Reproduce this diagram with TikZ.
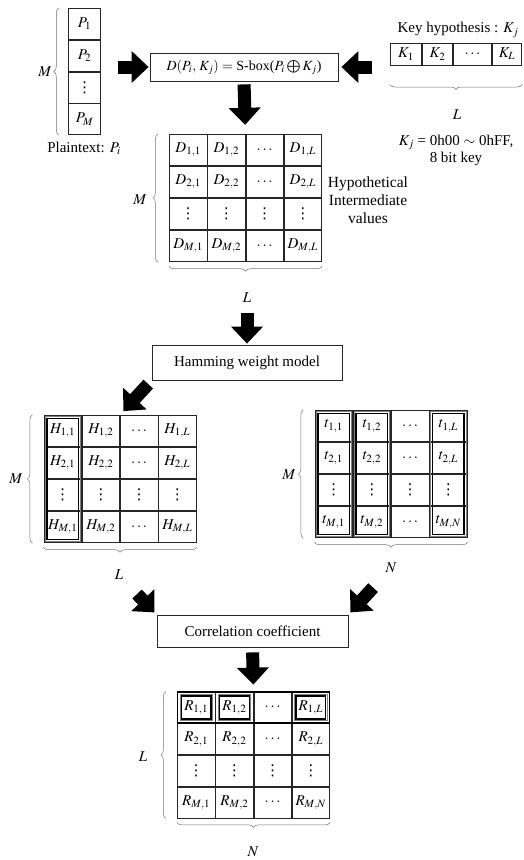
\documentclass[tikz,border=0pt]{standalone}
\usepackage{mathptmx}
\usepackage{fontspec}
\setmainfont{Liberation Serif}
\newfontfamily\dotsfont{DejaVu Sans}
\newcommand{\vdt}{\hbox{\dotsfont\char"22EE}}
\usetikzlibrary{matrix,arrows.meta,decorations.pathreplacing}

\begin{document}
\begin{tikzpicture}[x=1pt,y=-1pt,
  font=\fontsize{15}{17}\selectfont,
  grid/.style={matrix of math nodes, inner sep=0pt,
    column sep=0pt, row sep=0pt,
    nodes={draw=black!85, line width=0.6pt, minimum width=37.6pt,
      minimum height=31.4pt, inner sep=0pt, outer sep=0pt, anchor=center}},
  stepbox/.style={draw=black!85, line width=0.8pt, inner sep=0pt},
  bigarrow/.style={line width=13pt, black,
    -{Triangle[width=31pt,length=17pt]}},
  curly/.style={decorate, decoration={brace, amplitude=5pt},
    draw=black!55, line width=0.5pt},
  hlthin/.style={draw=black!50, line width=0.5pt},
  hlthick/.style={draw=black, line width=1.3pt}
]
\useasboundingbox (0,0) rectangle (523,860);

% ---------- inputs ----------
\matrix (P) [grid, nodes={minimum width=32.4pt, minimum height=31.1pt}]
  at (84.5,71.5) {
  P_1 \\ P_2 \\ \vdt \\ P_M \\
};
\draw[curly] ([xshift=-9pt]P.south west) -- ([xshift=-9pt]P.north west);
\node (PM) at (45,72) {$M$};
\node (Plab) at (84,148) {Plaintext: $P_i$};

\node[stepbox, minimum width=188pt, minimum height=28pt,
  font=\fontsize{14}{16}\selectfont] (Dbox) at (244,67)
  {$D(P_i,\,K_j) =$ S-box($P_i \mathbin{\bigoplus} K_j$)};

\node (Ktitle) at (458,30) {Key hypothesis : $K_j$};
\matrix (K) [grid, nodes={minimum height=22pt},
  column 1/.style={nodes={minimum width=31.4pt}},
  column 2/.style={nodes={minimum width=30.4pt}},
  column 3/.style={nodes={minimum width=38.4pt}},
  column 4/.style={nodes={minimum width=29.4pt}}]
  at (456,54) {
  K_1 & K_2 & \cdots & K_L \\
};
\draw[curly] ([yshift=-19pt]K.south east) -- ([yshift=-19pt]K.south west);
\node (KL) at (457,115) {$L$};
\node[align=center] (Krange) at (456,150)
  {$K_j$ = 0h00 $\sim$ 0hFF,\\ 8 bit key};

\draw[bigarrow, shorten <=17pt, shorten >=1pt] (P.east |- Dbox.west) -- (Dbox.west);
\draw[bigarrow, shorten <=18pt, shorten >=3pt] (K.west |- Dbox.east) -- (Dbox.east);

% ---------- hypothetical intermediate values ----------
\matrix (D) [grid] at (245.5,198) {
  D_{1,1} & D_{1,2} & \cdots & D_{1,L} \\
  D_{2,1} & D_{2,2} & \cdots & D_{2,L} \\
  \vdt    & \vdt    & \vdt   & \vdt    \\
  D_{M,1} & D_{M,2} & \cdots & D_{M,L} \\
};
\draw[bigarrow, shorten <=3pt, shorten >=9pt] (Dbox.south) -- (D.north);
\draw[curly] ([xshift=-11pt]D.south west) -- ([xshift=-11pt]D.north west);
\node (DM) at (140,200) {$M$};
\draw[curly] ([yshift=-4pt]D.south east) -- ([yshift=-4pt]D.south west);
\node (DL) at (247,298) {$L$};
\node[align=center, font=\fontsize{15.5}{18}\selectfont] (Dlab) at (368,200)
  {Hypothetical\\Intermediate\\values};

% ---------- power model ----------
\node[stepbox, minimum width=190pt, minimum height=35pt] (Ham) at (247,362.5)
  {Hamming weight model};
\draw[bigarrow, shorten <=7pt, shorten >=1pt] (DL.south) -- (Ham.north);

\matrix (H) [grid] at (120,479) {
  H_{1,1} & H_{1,2} & \cdots & H_{1,L} \\
  H_{2,1} & H_{2,2} & \cdots & H_{2,L} \\
  \vdt    & \vdt    & \vdt   & \vdt    \\
  H_{M,1} & H_{M,2} & \cdots & H_{M,L} \\
};
\draw[bigarrow, shorten <=5pt, shorten >=5pt] (Ham.south west) -- (H.north);
\draw[hlthin]  ([shift={(1,1)}]H-1-1.north west) rectangle ([shift={(-1,-1)}]H-4-1.south east);
\draw[hlthick] ([shift={(3,3)}]H-1-1.north west) rectangle ([shift={(-3,-3)}]H-4-1.south east);
\draw[curly] ([xshift=-11pt]H.south west) -- ([xshift=-11pt]H.north west);
\node (HM) at (16,479) {$M$};
\draw[curly] ([yshift=-4pt]H.south east) -- ([yshift=-4pt]H.south west);
\node (HL) at (119,575) {$L$};

% ---------- measured traces ----------
\matrix (T) [grid] at (391,474) {
  t_{1,1} & t_{1,2} & \cdots & t_{1,L} \\
  t_{2,1} & t_{2,2} & \cdots & t_{2,L} \\
  \vdt    & \vdt    & \vdt   & \vdt    \\
  t_{M,1} & t_{M,2} & \cdots & t_{M,N} \\
};
\foreach \c in {1,2,4}{
  \draw[hlthin]  ([shift={(1,1)}]T-1-\c.north west) rectangle ([shift={(-1,-1)}]T-4-\c.south east);
  \draw[hlthick] ([shift={(3,3)}]T-1-\c.north west) rectangle ([shift={(-3,-3)}]T-4-\c.south east);
}
\draw[curly] ([xshift=-11pt]T.south west) -- ([xshift=-11pt]T.north west);
\node (TM) at (289,475) {$M$};
\draw[curly] ([yshift=-4pt]T.south east) -- ([yshift=-4pt]T.south west);
\node (TN) at (391,568) {$N$};

% ---------- correlation ----------
\node[stepbox, minimum width=191pt, minimum height=32pt] (Corr) at (252.5,631)
  {Correlation coefficient};
\draw[bigarrow, shorten <=15pt, shorten >=3pt] (HL) -- (Corr.north west);
\draw[bigarrow, shorten <=15pt, shorten >=3pt] (TN) -- (Corr.north east);

\matrix (R) [grid, nodes={minimum height=31pt}] at (253.5,755) {
  R_{1,1} & R_{1,2} & \cdots & R_{1,L} \\
  R_{2,1} & R_{2,2} & \cdots & R_{2,L} \\
  \vdt    & \vdt    & \vdt   & \vdt    \\
  R_{M,1} & R_{M,2} & \cdots & R_{M,N} \\
};
\draw[bigarrow, shorten <=5pt, shorten >=7pt] (Corr.south) -- (R.north);
\draw[hlthick] (R-1-1.north west) rectangle (R-1-4.south east);
\foreach \c in {1,2,4}{
  \draw[hlthin]  ([shift={(2.5,2.5)}]R-1-\c.north west) rectangle ([shift={(-2.5,-2.5)}]R-1-\c.south east);
  \draw[hlthick] ([shift={(4,4)}]R-1-\c.north west) rectangle ([shift={(-4,-4)}]R-1-\c.south east);
}
\draw[curly] ([xshift=-11pt]R.south west) -- ([xshift=-11pt]R.north west);
\node (RL) at (143,757) {$L$};
\draw[curly] ([yshift=-4pt]R.south east) -- ([yshift=-4pt]R.south west);
\node (RN) at (253,852) {$N$};
\end{tikzpicture}
\end{document}
